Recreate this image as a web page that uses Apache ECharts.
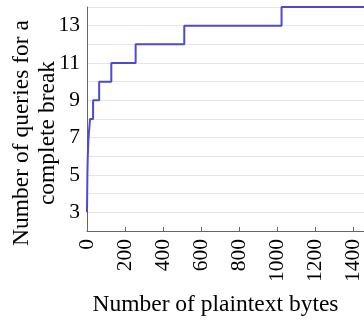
<!DOCTYPE html>
<html><head><meta charset="utf-8">
<script src="https://cdn.jsdelivr.net/npm/echarts@6/dist/echarts.min.js"></script>
<style>html,body{margin:0;padding:0;background:#fff;}#c{width:364px;height:322px;}</style>
</head><body><div id="c"></div>
<script>
const bytes = [0, 1, 2, 4, 8, 16, 32, 64, 128, 256, 512, 1024, 1460];
const queries = [3, 4, 5, 6, 7, 8, 9, 10, 11, 12, 13, 14, 14];
const xTicks = [0, 200, 400, 600, 800, 1000, 1200, 1400];
const yTicks = [3, 5, 7, 9, 11, 13];
const font = 'Liberation Serif';
const chart = echarts.init(document.getElementById('c'));
chart.setOption({
  animation: false,
  grid: {left: 87, right: 0, top: 7, bottom: 91, containLabel: false, outerBoundsMode: 'none'},
  xAxis: {
    type: 'value', min: 0, max: 1458, interval: 200,
    name: 'Number of plaintext bytes', nameLocation: 'middle', nameGap: 62,
    nameTextStyle: {fontFamily: font, fontSize: 23.5, color: '#000', padding: [0, 20, 0, 0]},
    axisLine: {show: true, lineStyle: {color: '#666', width: 1}},
    axisTick: {show: true, inside: true, length: 4, lineStyle: {color: '#666'}},
    axisLabel: {rotate: 90, fontFamily: font, fontSize: 21.5, color: '#000', margin: 8,
      formatter: v => xTicks.includes(v) ? String(v) : ''},
    splitLine: {show: false}
  },
  yAxis: {
    type: 'value', min: 2, max: 14, interval: 1,
    name: 'Number of queries for a\ncomplete break', nameLocation: 'middle', nameGap: 26,
    nameMoveOverlap: false,
    nameRotate: 90,
    nameTextStyle: {fontFamily: font, fontSize: 23.5, color: '#000', lineHeight: 26, padding: [0, 28, 0, 0]},
    axisLine: {show: true, lineStyle: {color: '#666', width: 1}},
    axisTick: {show: false},
    axisLabel: {fontFamily: font, fontSize: 21.5, color: '#000', margin: 7,
      formatter: v => yTicks.includes(v) ? String(v) : ''},
    splitLine: {show: true, lineStyle: {color: '#e6e6e6', width: 1}}
  },
  series: [{
    type: 'line', step: 'end', showSymbol: false,
    data: bytes.map((b, i) => [b, queries[i]]),
    lineStyle: {color: '#4a4ad6', width: 2},
    itemStyle: {color: '#4a4ad6'}
  }]
});
</script></body></html>
